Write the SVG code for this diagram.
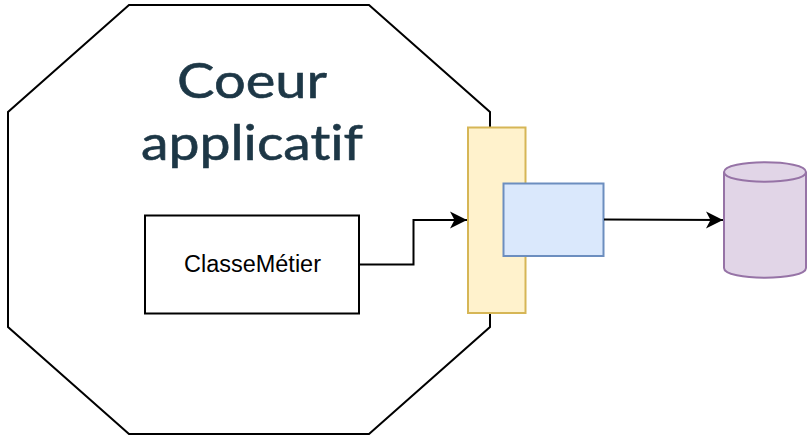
<svg xmlns="http://www.w3.org/2000/svg" width="812" height="445" viewBox="0 0 812 445">
<defs>
<marker id="arrow" markerUnits="userSpaceOnUse" markerWidth="20" markerHeight="20" refX="18" refY="10" orient="auto"><path d="M1 1.500L18 10L1 18.500L5.500 10Z" fill="#000"/></marker>
</defs>
<style>
.shape{stroke-width:2}
.edge{fill:none;stroke:#000;stroke-width:2}
.title{font-family:"Lato","Noto Sans",sans-serif;font-size:49px;fill:#1d3746;text-anchor:middle;stroke:#1d3746;stroke-width:.6;font-variant-ligatures:none}
.label{font-family:"Liberation Sans",Arial,sans-serif;font-size:23px;fill:#000;text-anchor:middle}
</style>
<rect width="812" height="445" fill="#fff"/>
<g id="coeur">
<path class="shape" d="M129 5H369L490 112V327L369 434H129L8 327V112Z" fill="#fff" stroke="#000"/>
<text class="title" x="252" y="98" textLength="150" lengthAdjust="spacingAndGlyphs">Coeur</text>
<text class="title" x="252" y="160" textLength="222" lengthAdjust="spacingAndGlyphs">applicatif</text>
</g>
<g id="classe">
<rect class="shape" x="145" y="215.500" width="214" height="98" fill="#fff" stroke="#000"/>
<text class="label" x="252.500" y="272" textLength="137" lengthAdjust="spacingAndGlyphs">ClasseMétier</text>
</g>
<g id="port">
<rect class="shape" x="468" y="127.500" width="57.500" height="185.500" fill="#fff2cc" stroke="#d6b656"/>
</g>
<g id="adapter">
<rect class="shape" x="503.500" y="183.500" width="100" height="72.500" fill="#dae8fc" stroke="#6c8ebf"/>
</g>
<g id="database">
<path class="shape" d="M724 172C724 159 806 159 806 172V268C806 281 724 281 724 268Z" fill="#e1d5e7" stroke="#9673a6"/>
<path class="shape" d="M724 172C724 185 806 185 806 172" fill="none" stroke="#9673a6"/>
</g>
<g id="connectors">
<path class="edge" d="M359 264.500H413.500V220H467" marker-end="url(#arrow)"/>
<path class="edge" d="M604 219.500L723 220" marker-end="url(#arrow)"/>
</g>
</svg>
